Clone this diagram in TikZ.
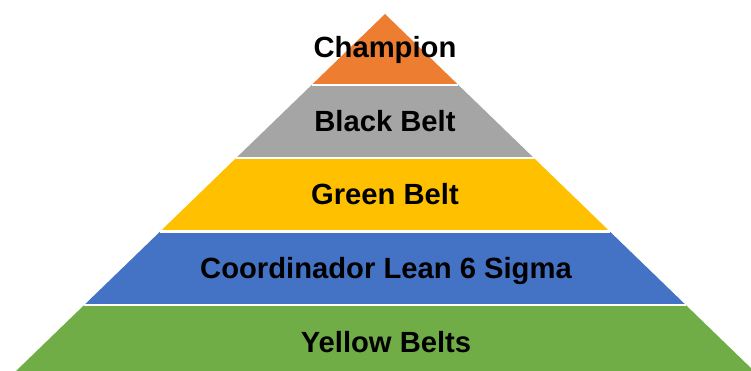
\documentclass[tikz,border=0pt]{standalone}
\usepackage{fontspec}
\setmainfont{Liberation Sans}
\definecolor{cOrange}{HTML}{ED7D31}
\definecolor{cGrey}{HTML}{A5A5A5}
\definecolor{cYellow}{HTML}{FFC000}
\definecolor{cBlue}{HTML}{4472C4}
\definecolor{cGreen}{HTML}{70AD47}
\begin{document}
\begin{tikzpicture}[x=1pt,y=-1pt,
  lbl/.style={anchor=base,font=\fontsize{29.2}{35}\selectfont\bfseries,text=black,inner sep=0pt},
  gap/.style={draw=white,line width=2.6pt}]
\useasboundingbox (0,0) rectangle (751,370);
\clip (0,0) rectangle (751,370);
\coordinate (apex) at (385,14);
\coordinate (l1) at (311.6,85);  \coordinate (r1) at (458.4,85);
\coordinate (l2) at (236.1,158); \coordinate (r2) at (533.9,158);
\coordinate (l3) at (160.2,231.5); \coordinate (r3) at (609.8,231.5);
\coordinate (l4) at (84.2,305);  \coordinate (r4) at (685.8,305);
\coordinate (l5) at (6.7,380);   \coordinate (r5) at (763.3,380);
\fill[cOrange] (apex) -- (r1) -- (l1) -- cycle;
\fill[cGrey] (l1) -- (r1) -- (r2) -- (l2) -- cycle;
\fill[cYellow] (l2) -- (r2) -- (r3) -- (l3) -- cycle;
\fill[cBlue] (l3) -- (r3) -- (r4) -- (l4) -- cycle;
\fill[cGreen] (l4) -- (r4) -- (r5) -- (l5) -- cycle;
\draw[gap] (l1) -- (r1);
\draw[gap] (l2) -- (r2);
\draw[gap] (l3) -- (r3);
\draw[gap] (l4) -- (r4);
\node[lbl] (champ) at (385,57) {Champion};
\node[lbl] (black) at (385,131) {Black Belt};
\node[lbl] (green) at (385,204) {Green Belt};
\node[lbl] (coord) at (386,278) {Coordinador Lean 6 Sigma};
\node[lbl] (yellow) at (386,352) {Yellow Belts};
\end{tikzpicture}
\end{document}
